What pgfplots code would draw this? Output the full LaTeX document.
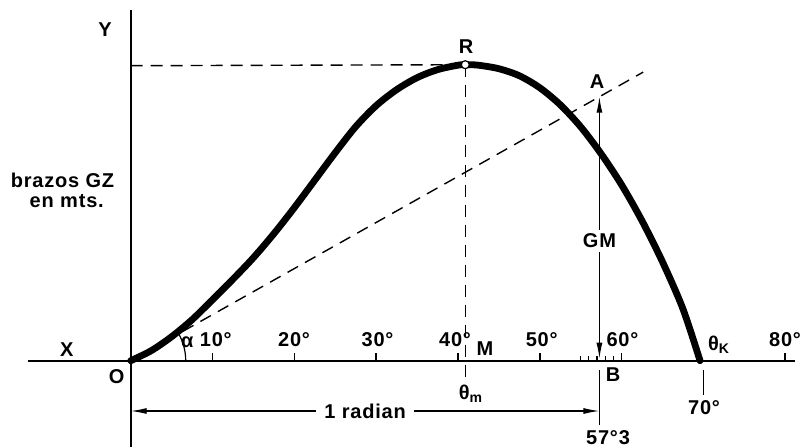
\documentclass[border=0pt]{standalone}
\usepackage{fontspec}
\setmainfont{Liberation Sans}[LetterSpace=4]
\usepackage{pgfplots}
\pgfplotsset{compat=1.18}
\usetikzlibrary{arrows.meta}

\begin{document}
\begin{tikzpicture}[
  lbl/.style={font=\bfseries\fontsize{10}{11}\selectfont, inner sep=0.5pt},
  arr/.style={{Latex[length=8pt,width=3pt]}-{Latex[length=8pt,width=3pt]}, line width=0.6pt},
  dsh/.style={line width=0.7pt, dash pattern=on 6pt off 4pt},
]
\begin{axis}[
  scale only axis,
  width=404.5pt, height=223.5pt,
  xmin=-15.98, xmax=82.92,
  ymin=-86.3, ymax=360.7,
  hide axis,
  clip=false,
]
% axes
\draw[line width=1pt] (axis cs:-12.56,0) -- (axis cs:81.2,0);
\draw[line width=1pt] (axis cs:0,350.7) -- (axis cs:0,-86.3);

% degree ticks
\pgfplotsinvokeforeach{10,20,30,40,50,60,80}{
  \draw[line width=0.8pt] (axis cs:#1,0) -- (axis cs:#1,8);
}
\pgfplotsinvokeforeach{55,56,57,58,59}{
  \draw[line width=0.6pt] (axis cs:#1,0) -- (axis cs:#1,5);
}
\draw[line width=0.8pt] (axis cs:70,-9) -- (axis cs:70,-34);

% tangent at the origin, slope GM per radian
\draw[dsh] (axis cs:0,0) -- (axis cs:62.65,288.6);

% maximum arm R
\draw[dsh] (axis cs:0,295) -- (axis cs:40.9,296);
\draw[dsh] (axis cs:40.9,296) -- (axis cs:40.9,-22);

% stability curve
\addplot[black, line width=3.4pt, smooth, line cap=round] coordinates {
  (0,0) (2.5,10) (5,24) (7.5,41) (10,61) (12.5,81.5) (15,103) (17.5,127)
  (20,153) (22.5,180.5) (25,208) (27.5,234) (30,255) (32.5,271) (35,283)
  (37.5,291) (40,295.5) (41,296) (42.5,295.5) (45,292) (47.5,285) (50,273)
  (52.5,256) (55,234) (57.5,207) (60,176) (62.5,140) (65,99) (67.5,52)
  (69.6,0)
};
\addplot[only marks, mark=*, mark size=2pt, mark options={fill=white, draw=black, line width=0.6pt}]
  coordinates {(40.9,296)};

% GM at one radian
\draw[arr] (axis cs:57.3,2) -- (axis cs:57.3,264)
  node[pos=0.45, lbl, fill=white, inner sep=2pt] {GM};
\draw[line width=0.8pt] (axis cs:57.3,-9) -- (axis cs:57.3,-64);
\draw[arr] (axis cs:0,-50.3) -- (axis cs:57.3,-50.3)
  node[pos=0.5, lbl, fill=white, inner xsep=4pt] {1 radian};

% angle alpha
\draw[line width=0.6pt] (axis cs:0,0) ++(27.5pt,0pt) arc[start angle=0, end angle=29.4, radius=27.5pt];

% labels
\node[lbl] at (axis cs:-3.14,330.7) {Y};
\node[lbl] at (axis cs:-8.34,180.7) {brazos GZ};
\node[lbl] at (axis cs:-7.82,159.7) {en mts.};
\node[lbl] at (axis cs:-7.82,10.7) {X};
\node[lbl] at (axis cs:-1.71,-16.3) {O};
\node[lbl] at (axis cs:6.9,18.4) {α};
\node[lbl] at (axis cs:10.4,20.7) {10°};
\node[lbl] at (axis cs:19.97,20.7) {20°};
\node[lbl] at (axis cs:30.17,20.7) {30°};
\node[lbl] at (axis cs:39.65,20.7) {40°};
\node[lbl] at (axis cs:43.3,11.7) {M};
\node[lbl] at (axis cs:50.24,20.7) {50°};
\node[lbl] at (axis cs:60.12,20.7) {60°};
\node[lbl] at (axis cs:79.99,20.7) {80°};
\node[lbl] at (axis cs:71.92,15.7) {θ\textsubscript{K}};
\node[lbl] at (axis cs:58.96,-14.3) {B};
\node[lbl] at (axis cs:70.09,-47.3) {70°};
\node[lbl] at (axis cs:58.35,-76.5) {57°3};
\node[lbl] at (axis cs:41.6,-33.3) {θ\textsubscript{m}};
\node[lbl] at (axis cs:57.0,278.7) {A};
\node[lbl] at (axis cs:41.0,313.7) {R};
\end{axis}
\pgfresetboundingbox
\path[use as bounding box] (current axis.south west) rectangle (current axis.north east);
\end{tikzpicture}
\end{document}
